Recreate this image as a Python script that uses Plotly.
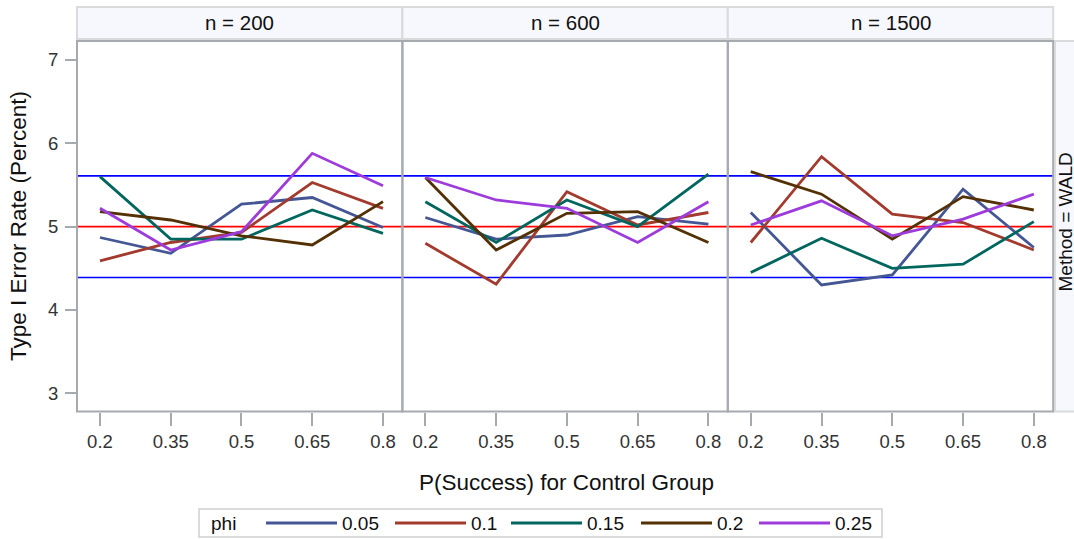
import plotly.graph_objects as go

# ---------------- data ----------------
p_success = [0.2, 0.35, 0.5, 0.65, 0.8]
x_ticktext = ["0.2", "0.35", "0.5", "0.65", "0.8"]
y_ticks = [3, 4, 5, 6, 7]
panel_labels = ["n = 200", "n = 600", "n = 1500"]
phi_labels = ["0.05", "0.1", "0.15", "0.2", "0.25"]
colors = ["#445694", "#A23A2E", "#01665E", "#543005", "#9D3CDB"]

n200_phi005 = [4.87, 4.68, 5.27, 5.35, 4.99]
n200_phi010 = [4.59, 4.81, 4.93, 5.53, 5.22]
n200_phi015 = [5.60, 4.85, 4.85, 5.20, 4.92]
n200_phi020 = [5.18, 5.08, 4.89, 4.78, 5.30]
n200_phi025 = [5.22, 4.72, 4.94, 5.88, 5.49]

n600_phi005 = [5.11, 4.85, 4.90, 5.12, 5.03]
n600_phi010 = [4.80, 4.31, 5.42, 5.02, 5.17]
n600_phi015 = [5.30, 4.81, 5.32, 5.00, 5.63]
n600_phi020 = [5.59, 4.72, 5.16, 5.18, 4.81]
n600_phi025 = [5.59, 5.32, 5.22, 4.81, 5.30]

n1500_phi005 = [5.17, 4.30, 4.42, 5.45, 4.75]
n1500_phi010 = [4.81, 5.84, 5.15, 5.05, 4.72]
n1500_phi015 = [4.45, 4.86, 4.50, 4.55, 5.06]
n1500_phi020 = [5.66, 5.39, 4.85, 5.36, 5.20]
n1500_phi025 = [5.02, 5.31, 4.89, 5.09, 5.39]

ref_limits = [4.39, 5.61]
ref_target = [5.0]

panel_series = [
    [n200_phi005, n200_phi010, n200_phi015, n200_phi020, n200_phi025],
    [n600_phi005, n600_phi010, n600_phi015, n600_phi020, n600_phi025],
    [n1500_phi005, n1500_phi010, n1500_phi015, n1500_phi020, n1500_phi025],
]

# ---------------- layout helpers ----------------
W, H = 1074, 539
FONT = "Liberation Sans, Arial, sans-serif"
TXT = "#333333"
FRAME = "#A6A9AE"
STRIP_FILL = "#F7F8FD"
STRIP_LINE = "#D9DADC"


def px(x):
    return x / W


def py(y):
    return 1 - y / H


panel_edges = [77, 402.4, 727.8, 1053.2]
plot_top, plot_bottom = 41, 411.5
strip_top, strip_bottom = 7, 39

fig = go.Figure()
shapes = []
annotations = []

for i in range(3):
    ax = "" if i == 0 else str(i + 1)
    for j, series in enumerate(panel_series[i]):
        fig.add_trace(go.Scatter(
            x=p_success, y=series, mode="lines",
            line=dict(color=colors[j], width=2.8),
            name=phi_labels[j], showlegend=False,
            xaxis="x" + ax, yaxis="y" + ax,
        ))
    x0, x1 = panel_edges[i], panel_edges[i + 1]
    xa = dict(
        domain=[px(x0), px(x1)], range=[0.1513, 0.8411],
        tickvals=p_success, ticktext=x_ticktext,
        ticks="outside", ticklen=13, tickwidth=1.5, tickcolor=FRAME,
        tickfont=dict(family=FONT, size=18.5, color=TXT),
        showgrid=False, zeroline=False, showline=False,
        anchor="y" + ax, fixedrange=True,
    )
    ya = dict(
        domain=[py(plot_bottom), py(plot_top)], range=[2.782, 7.228],
        tickvals=y_ticks, showgrid=False, zeroline=False, showline=False,
        anchor="x" + ax, fixedrange=True,
    )
    if i == 0:
        ya.update(ticks="outside", ticklen=11, tickwidth=1.5, tickcolor=FRAME,
                  ticklabelstandoff=3,
                  tickfont=dict(family=FONT, size=18.5, color=TXT))
    else:
        ya.update(showticklabels=False, ticks="")
    fig.update_layout(**{"xaxis" + ax: xa, "yaxis" + ax: ya})

    # reference lines
    for v in ref_limits:
        shapes.append(dict(type="line", xref="x" + ax + " domain", yref="y" + ax,
                           x0=0, x1=1, y0=v, y1=v,
                           line=dict(color="#0000FF", width=1.6), layer="below"))
    for v in ref_target:
        shapes.append(dict(type="line", xref="x" + ax + " domain", yref="y" + ax,
                           x0=0, x1=1, y0=v, y1=v,
                           line=dict(color="#FF0000", width=1.6), layer="below"))

    # header strip
    shapes.append(dict(type="rect", xref="paper", yref="paper",
                       x0=px(x0), x1=px(x1), y0=py(strip_bottom), y1=py(strip_top),
                       fillcolor=STRIP_FILL, line=dict(color=STRIP_LINE, width=2)))
    annotations.append(dict(text=panel_labels[i], xref="paper", yref="paper",
                            x=px((x0 + x1) / 2), y=py(23), showarrow=False,
                            xanchor="center", yanchor="middle",
                            font=dict(family=FONT, size=20.5, color="#111111")))
    # panel frame
    shapes.append(dict(type="rect", xref="paper", yref="paper",
                       x0=px(x0), x1=px(x1), y0=py(plot_bottom), y1=py(plot_top),
                       line=dict(color=FRAME, width=2), layer="above"))

# right strip
shapes.append(dict(type="rect", xref="paper", yref="paper",
                   x0=px(1055), x1=px(1095), y0=py(plot_bottom), y1=py(plot_top),
                   fillcolor=STRIP_FILL, line=dict(color=STRIP_LINE, width=2)))
annotations.append(dict(text="Method = WALD", xref="paper", yref="paper",
                        x=px(1064.5), y=py(222), showarrow=False, textangle=-90,
                        xanchor="center", yanchor="middle",
                        font=dict(family=FONT, size=19, color="#111111")))

# axis titles
annotations.append(dict(text="Type I Error Rate (Percent)", xref="paper", yref="paper",
                        x=px(18), y=py(226), showarrow=False, textangle=-90,
                        xanchor="center", yanchor="middle",
                        font=dict(family=FONT, size=22.5, color="#111111")))
annotations.append(dict(text="P(Success) for Control Group", xref="paper", yref="paper",
                        x=px(566), y=py(482), showarrow=False,
                        xanchor="center", yanchor="middle",
                        font=dict(family=FONT, size=22.5, color="#111111")))

# legend (manual)
leg_top, leg_bottom = 509, 537
leg_y = 523
shapes.append(dict(type="rect", xref="paper", yref="paper",
                   x0=px(199), x1=px(882), y0=py(leg_bottom), y1=py(leg_top),
                   line=dict(color="#CFCFCF", width=1.5)))
annotations.append(dict(text="phi", xref="paper", yref="paper",
                        x=px(209), y=py(leg_y), showarrow=False,
                        xanchor="left", yanchor="middle",
                        font=dict(family=FONT, size=19, color="#111111")))
line_starts = [266, 395, 511, 641, 759]
for j in range(5):
    xs = line_starts[j]
    shapes.append(dict(type="line", xref="paper", yref="paper",
                       x0=px(xs), x1=px(xs + 71), y0=py(leg_y), y1=py(leg_y),
                       line=dict(color=colors[j], width=2.8)))
    annotations.append(dict(text=phi_labels[j], xref="paper", yref="paper",
                            x=px(xs + 74), y=py(leg_y), showarrow=False,
                            xanchor="left", yanchor="middle",
                            font=dict(family=FONT, size=19, color="#111111")))

fig.update_layout(
    width=W, height=H,
    margin=dict(l=0, r=0, t=0, b=0),
    paper_bgcolor="white", plot_bgcolor="white",
    showlegend=False,
    shapes=shapes, annotations=annotations,
    font=dict(family=FONT),
)

fig.write_html("out.html")
